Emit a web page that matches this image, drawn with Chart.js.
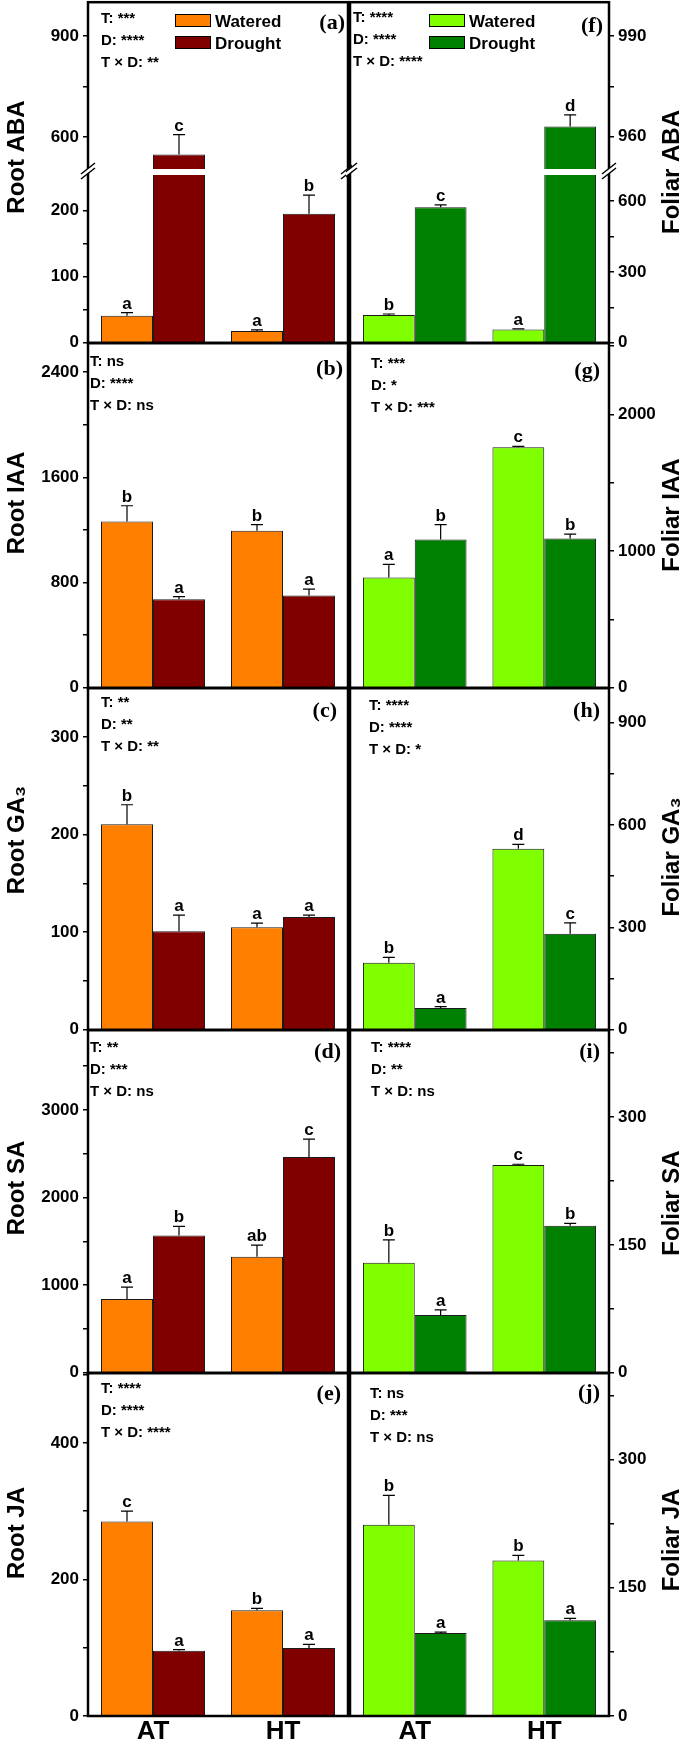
<!DOCTYPE html>
<html>
<head>
<meta charset="utf-8">
<script src="https://cdn.jsdelivr.net/npm/chart.js@4.4.1/dist/chart.umd.min.js"></script>
<style>
  html, body { margin: 0; padding: 0; background: #fff; }
  #fig { position: relative; width: 685px; height: 1743px; overflow: hidden; background: #fff; }
  #fig canvas { position: absolute; }
</style>
</head>
<body>
<div id="fig"></div>
<script>
const FONT = '"Liberation Sans", Arial, Helvetica, sans-serif';
const SERIF = '"Liberation Serif", "Times New Roman", serif';

const groups = ['AT', 'HT'];
const seriesNames = ['Watered', 'Drought'];
const rootColors = ['#ff8000', '#800000'];
const leafColors = ['#80ff00', '#008000'];

// (a) Root ABA (broken axis)
const rootAbaW = [41, 18];
const rootAbaWSe = [4.5, 1.5];
const rootAbaD = [548, 195];
const rootAbaDSe = [59, 28];
const rootAbaLetters = [['a', 'a'], ['c', 'b']];
const rootAbaStats = ['T: ***', 'D: ****', 'T \u00d7 D: **'];
const rootAbaTicksLow = [0, 50, 100, 150, 200];
const rootAbaTicksHigh = [600, 750, 900];
const rootAbaLabels = [0, 100, 200, 600, 900];

// (b) Root IAA
const rootIaaW = [1265, 1194];
const rootIaaWSe = [119, 46];
const rootIaaD = [673, 701];
const rootIaaDSe = [20, 49];
const rootIaaLetters = [['b', 'b'], ['a', 'a']];
const rootIaaStats = ['T: ns', 'D: ****', 'T \u00d7 D: ns'];
const rootIaaTicks = [0, 400, 800, 1200, 1600, 2000, 2400];
const rootIaaLabels = [0, 800, 1600, 2400];

// (c) Root GA3
const rootGaW = [210.6, 105];
const rootGaWSe = [20, 4.4];
const rootGaD = [101, 115.5];
const rootGaDSe = [16.5, 2];
const rootGaLetters = [['b', 'a'], ['a', 'a']];
const rootGaStats = ['T: **', 'D: **', 'T \u00d7 D: **'];
const rootGaTicks = [0, 50, 100, 150, 200, 250, 300];
const rootGaLabels = [0, 100, 200, 300];

// (d) Root SA
const rootSaW = [841, 1324];
const rootSaWSe = [137, 134];
const rootSaD = [1568, 2462];
const rootSaDSe = [103, 206];
const rootSaLetters = [['a', 'ab'], ['b', 'c']];
const rootSaStats = ['T: **', 'D: ***', 'T \u00d7 D: ns'];
const rootSaTicks = [0, 500, 1000, 1500, 2000, 2500, 3000, 3500];
const rootSaLabels = [0, 1000, 2000, 3000];

// (e) Root JA
const rootJaW = [285, 155];
const rootJaWSe = [15, 2.5];
const rootJaD = [95.6, 99.5];
const rootJaDSe = [1.5, 5.5];
const rootJaLetters = [['c', 'b'], ['a', 'a']];
const rootJaStats = ['T: ****', 'D: ****', 'T \u00d7 D: ****'];
const rootJaTicks = [0, 100, 200, 300, 400, 500];
const rootJaLabels = [0, 200, 400];

// (f) Foliar ABA (broken axis)
const leafAbaW = [118, 56];
const leafAbaWSe = [4, 3];
const leafAbaD = [574, 963];
const leafAbaDSe = [10, 3.5];
const leafAbaLetters = [['b', 'a'], ['c', 'd']];
const leafAbaStats = ['T: ****', 'D: ****', 'T \u00d7 D: ****'];
const leafAbaTicksLow = [0, 150, 300, 450, 600];
const leafAbaTicksHigh = [960, 975, 990];
const leafAbaLabels = [0, 300, 600, 960, 990];

// (g) Foliar IAA
const leafIaaW = [807, 1760];
const leafIaaWSe = [95, 5];
const leafIaaD = [1085, 1092];
const leafIaaDSe = [109, 32];
const leafIaaLetters = [['a', 'c'], ['b', 'b']];
const leafIaaStats = ['T: ***', 'D: *', 'T \u00d7 D: ***'];
const leafIaaTicks = [0, 500, 1000, 1500, 2000, 2500];
const leafIaaLabels = [0, 1000, 2000];

// (h) Foliar GA3
const leafGaW = [196, 530];
const leafGaWSe = [16, 13];
const leafGaD = [63.5, 281];
const leafGaDSe = [4.5, 32];
const leafGaLetters = [['b', 'd'], ['a', 'c']];
const leafGaStats = ['T: ****', 'D: ****', 'T \u00d7 D: *'];
const leafGaTicks = [0, 150, 300, 450, 600, 750, 900];
const leafGaLabels = [0, 300, 600, 900];

// (i) Foliar SA
const leafSaW = [129, 243.7];
const leafSaWSe = [27, 1];
const leafSaD = [67.8, 172.4];
const leafSaDSe = [6, 3];
const leafSaLetters = [['b', 'c'], ['a', 'b']];
const leafSaStats = ['T: ****', 'D: **', 'T \u00d7 D: ns'];
const leafSaTicks = [0, 75, 150, 225, 300, 375];
const leafSaLabels = [0, 150, 300];

// (j) Foliar JA
const leafJaW = [223.6, 182];
const leafJaWSe = [34.5, 6];
const leafJaD = [97.2, 112];
const leafJaDSe = [1, 2.3];
const leafJaLetters = [['b', 'b'], ['a', 'a']];
const leafJaStats = ['T: ns', 'D: ***', 'T \u00d7 D: ns'];
const leafJaTicks = [0, 75, 150, 225, 300, 375];
const leafJaLabels = [0, 150, 300];

const panels = [
  { col: 0, top: 2, bottom: 343, brk: 172, title: 'Root ABA', titleY: 157, tag: '(a)', tagX: 345, tagY: 27, textX: 101, textY: 21, legendX: 175,
    w: rootAbaW, wSe: rootAbaWSe, d: rootAbaD, dSe: rootAbaDSe, letters: rootAbaLetters, stats: rootAbaStats, labels: rootAbaLabels,
    low: { min: 0, max: 258, ticks: rootAbaTicksLow }, high: { min: 496, max: 1000, ticks: rootAbaTicksHigh } },
  { col: 0, top: 343, bottom: 688, title: 'Root IAA', titleY: 503, tag: '(b)', tagX: 343, tagY: 32, textX: 90, textY: 23,
    w: rootIaaW, wSe: rootIaaWSe, d: rootIaaD, dSe: rootIaaDSe, letters: rootIaaLetters, stats: rootIaaStats, labels: rootIaaLabels,
    y: { min: 0, max: 2620, ticks: rootIaaTicks } },
  { col: 0, top: 688, bottom: 1030, title: 'Root GA\u2083', titleY: 840, tag: '(c)', tagX: 337, tagY: 29, textX: 101, textY: 19,
    w: rootGaW, wSe: rootGaWSe, d: rootGaD, dSe: rootGaDSe, letters: rootGaLetters, stats: rootGaStats, labels: rootGaLabels,
    y: { min: 0, max: 350, ticks: rootGaTicks } },
  { col: 0, top: 1030, bottom: 1373, title: 'Root SA', titleY: 1188, tag: '(d)', tagX: 341, tagY: 28, textX: 90, textY: 22,
    w: rootSaW, wSe: rootSaWSe, d: rootSaD, dSe: rootSaDSe, letters: rootSaLetters, stats: rootSaStats, labels: rootSaLabels,
    y: { min: 0, max: 3910, ticks: rootSaTicks } },
  { col: 0, top: 1373, bottom: 1716, title: 'Root JA', titleY: 1533, tag: '(e)', tagX: 341, tagY: 27, textX: 101, textY: 20,
    w: rootJaW, wSe: rootJaWSe, d: rootJaD, dSe: rootJaDSe, letters: rootJaLetters, stats: rootJaStats, labels: rootJaLabels,
    y: { min: 0, max: 502, ticks: rootJaTicks } },
  { col: 1, top: 2, bottom: 343, brk: 172, title: 'Foliar ABA', titleY: 172, tag: '(f)', tagX: 603, tagY: 30, textX: 353, textY: 20, legendX: 429,
    w: leafAbaW, wSe: leafAbaWSe, d: leafAbaD, dSe: leafAbaDSe, letters: leafAbaLetters, stats: leafAbaStats, labels: leafAbaLabels,
    low: { min: 0, max: 723, ticks: leafAbaTicksLow }, high: { min: 949.5, max: 1000, ticks: leafAbaTicksHigh } },
  { col: 1, top: 343, bottom: 688, title: 'Foliar IAA', titleY: 515, tag: '(g)', tagX: 600, tagY: 34, textX: 371, textY: 25,
    w: leafIaaW, wSe: leafIaaWSe, d: leafIaaD, dSe: leafIaaDSe, letters: leafIaaLetters, stats: leafIaaStats, labels: leafIaaLabels,
    y: { min: 0, max: 2520, ticks: leafIaaTicks } },
  { col: 1, top: 688, bottom: 1030, title: 'Foliar GA\u2083', titleY: 857, tag: '(h)', tagX: 600, tagY: 29, textX: 369, textY: 22,
    w: leafGaW, wSe: leafGaWSe, d: leafGaD, dSe: leafGaDSe, letters: leafGaLetters, stats: leafGaStats, labels: leafGaLabels,
    y: { min: 0, max: 1000, ticks: leafGaTicks } },
  { col: 1, top: 1030, bottom: 1373, title: 'Foliar SA', titleY: 1203, tag: '(i)', tagX: 600, tagY: 28, textX: 371, textY: 22,
    w: leafSaW, wSe: leafSaWSe, d: leafSaD, dSe: leafSaDSe, letters: leafSaLetters, stats: leafSaStats, labels: leafSaLabels,
    y: { min: 0, max: 402, ticks: leafSaTicks } },
  { col: 1, top: 1373, bottom: 1716, title: 'Foliar JA', titleY: 1540, tag: '(j)', tagX: 600, tagY: 26, textX: 370, textY: 25,
    w: leafJaW, wSe: leafJaWSe, d: leafJaD, dSe: leafJaDSe, letters: leafJaLetters, stats: leafJaStats, labels: leafJaLabels,
    y: { min: 0, max: 401, ticks: leafJaTicks } }
];

const fig = document.getElementById('fig');

function makeChart(p, idx) {
  const left = p.col === 0;
  const colors = left ? rootColors : leafColors;
  const last = p.bottom > 1700;
  const padT = 14, padB = last ? 0 : 14, xH = last ? 27 : 0;
  const cw = left ? 352 : 339;
  const cx0 = left ? 0 : 346;
  const ch = padT + (p.bottom - p.top) + padB + xH;
  const cy0 = p.top - padT;

  const canvas = document.createElement('canvas');
  canvas.width = cw;
  canvas.height = ch;
  canvas.style.left = cx0 + 'px';
  canvas.style.top = cy0 + 'px';
  fig.appendChild(canvas);

  const pos = left ? 'left' : 'right';
  const yAxis = (r, extra) => Object.assign({
    type: 'linear', position: pos, min: r.min, max: r.max, stacked: false,
    afterBuildTicks: s => { s.ticks = r.ticks.map(v => ({ value: v })); },
    afterFit: s => { s.width = left ? 88 : 76; },
    ticks: {
      autoSkip: false, padding: 4, color: '#000',
      font: { family: FONT, size: 17, weight: 'bold' },
      callback: v => p.labels.includes(v) ? String(v) : ''
    },
    grid: { drawOnChartArea: false, drawTicks: true, tickLength: 5, color: '#000', lineWidth: 1.5 },
    border: { display: false }
  }, extra || {});

  const xAxis = {
    type: 'category', display: last, offset: true,
    grid: { display: false, drawTicks: false }, border: { display: false },
    ticks: { color: '#000', padding: 0, font: { family: FONT, size: 26, weight: 'bold' } }
  };
  if (last) xAxis.afterFit = s => { s.height = xH; };

  const bar = (k, data, extra) => Object.assign({
    label: seriesNames[k], data,
    backgroundColor: colors[k], borderColor: '#1a1a1a', borderWidth: 1,
    categoryPercentage: 0.8, barPercentage: 1.0
  }, extra);

  let scales, datasets;
  if (p.low) {
    const yLow = yAxis(p.low, { stack: 'brk', stackWeight: p.bottom - p.brk });
    const yHigh = yAxis(p.high, { stack: 'brk', stackWeight: p.brk - p.top });
    scales = left ? { x: xAxis, yLow, yHigh } : { x: xAxis, yHigh, yLow };
    datasets = [
      bar(0, p.w.map(v => Math.min(v, p.low.max)), { yAxisID: 'yLow', stack: 'w' }),
      bar(1, p.d.map(v => Math.min(v, p.low.max)), { yAxisID: 'yLow', stack: 'd' }),
      bar(0, p.w.map(v => v > p.high.min ? v : null), { yAxisID: 'yHigh', stack: 'w' }),
      bar(1, p.d.map(v => v > p.high.min ? v : null), { yAxisID: 'yHigh', stack: 'd' })
    ];
  } else {
    scales = { x: xAxis, y: yAxis(p.y) };
    datasets = [bar(0, p.w, { yAxisID: 'y' }), bar(1, p.d, { yAxisID: 'y' })];
  }

  const X = x => x - cx0;
  const Y = y => y - cy0;

  const decor = {
    id: 'decor' + idx,
    afterDraw(chart) {
      const ctx = chart.ctx, a = chart.chartArea;
      ctx.save();
      ctx.strokeStyle = '#000';
      ctx.lineWidth = 2.5;
      ctx.strokeRect(a.left, a.top, a.right - a.left, a.bottom - a.top);

      if (p.low) {
        const b = chart.scales.yHigh.bottom;
        ctx.fillStyle = '#fff';
        ctx.fillRect(a.left + 2, b - 3, a.right - a.left - 4, 6);
        [a.left, a.right].forEach(x => {
          ctx.fillStyle = '#fff';
          ctx.beginPath();
          ctx.moveTo(x - 7, b + 7); ctx.lineTo(x + 7, b - 4);
          ctx.lineTo(x + 7, b - 9); ctx.lineTo(x - 7, b + 2);
          ctx.closePath(); ctx.fill();
          ctx.strokeStyle = '#000'; ctx.lineWidth = 1.5;
          ctx.beginPath();
          ctx.moveTo(x - 7, b + 7); ctx.lineTo(x + 7, b - 4);
          ctx.moveTo(x - 7, b + 2); ctx.lineTo(x + 7, b - 9);
          ctx.stroke();
        });
      }

      const scaleFor = v => p.low ? (v > p.low.max ? chart.scales.yHigh : chart.scales.yLow) : chart.scales.y;
      ctx.strokeStyle = '#000';
      ctx.lineWidth = 1.2;
      ctx.fillStyle = '#000';
      ctx.font = 'bold 17px ' + FONT;
      ctx.textAlign = 'center';
      ctx.textBaseline = 'alphabetic';
      [[p.w, p.wSe], [p.d, p.dSe]].forEach(([vals, ses], s) => {
        const meta = chart.getDatasetMeta(s);
        vals.forEach((v, i) => {
          const x = meta.data[i].x;
          const t = v + ses[i];
          const yTop = scaleFor(t).getPixelForValue(t);
          const yBar = scaleFor(v).getPixelForValue(v);
          ctx.beginPath();
          ctx.moveTo(x, yBar); ctx.lineTo(x, yTop);
          ctx.moveTo(x - 6, yTop); ctx.lineTo(x + 6, yTop);
          ctx.stroke();
          ctx.fillText(p.letters[s][i], x, yTop - 4);
        });
      });

      ctx.textAlign = 'left';
      ctx.font = 'bold 15px ' + FONT;
      p.stats.forEach((line, k) => ctx.fillText(line, X(p.textX), Y(p.top + p.textY + 22 * k)));

      if (p.legendX) {
        ctx.font = 'bold 17px ' + FONT;
        [0, 1].forEach(k => {
          const ds = chart.data.datasets[k];
          const bx = X(p.legendX), by = Y(p.top + 12 + 22 * k);
          ctx.fillStyle = ds.backgroundColor;
          ctx.fillRect(bx, by, 36, 13);
          ctx.strokeStyle = '#000'; ctx.lineWidth = 1;
          ctx.strokeRect(bx + 0.5, by + 0.5, 35, 12);
          ctx.fillStyle = '#000';
          ctx.fillText(ds.label, bx + 40, by + 13);
        });
      }

      ctx.textAlign = 'right';
      ctx.font = 'bold 22px ' + SERIF;
      ctx.fillText(p.tag, X(p.tagX), Y(p.top + p.tagY));

      ctx.translate(X(left ? 17 : 672), Y(p.titleY));
      ctx.rotate(-Math.PI / 2);
      ctx.textAlign = 'center';
      ctx.textBaseline = 'middle';
      ctx.font = 'bold 24px ' + FONT;
      ctx.fillText(p.title, 0, 0);
      ctx.restore();
    }
  };

  new Chart(canvas, {
    type: 'bar',
    data: { labels: groups, datasets },
    options: {
      responsive: false, animation: false, devicePixelRatio: 1,
      layout: { padding: { top: padT, bottom: padB, left: left ? 0 : 4, right: left ? 4 : 0 } },
      scales,
      plugins: { legend: { display: false }, tooltip: { enabled: false } }
    },
    plugins: [decor]
  });
}

panels.forEach(makeChart);
</script>
</body>
</html>
